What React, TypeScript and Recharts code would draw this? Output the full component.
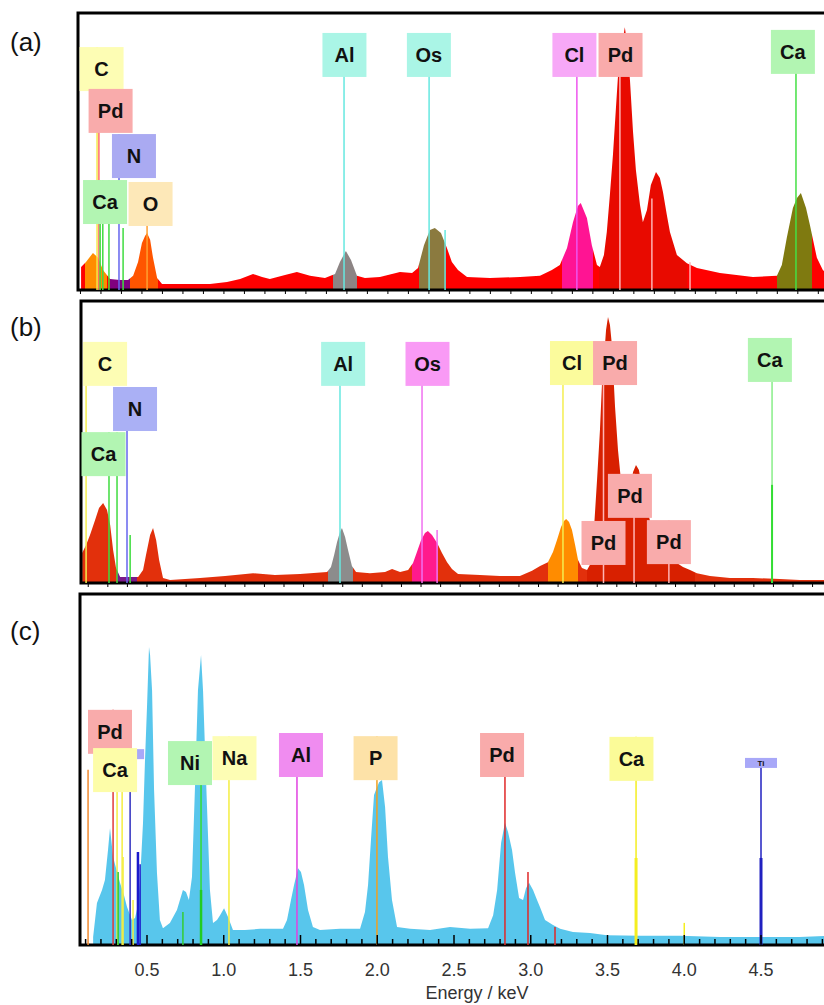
import React from 'react';
import { ComposedChart, Area, XAxis, YAxis, ReferenceLine, ReferenceDot, ReferenceArea } from 'recharts';

const SANS = "'Liberation Sans', Arial, Helvetica, sans-serif";
const NARROW = "'Liberation Sans Narrow', 'Arial Narrow', 'Liberation Sans', sans-serif";

// ---- (a) spectrum: energy (keV) / intensity (a.u., 0-100)
const energyA = [0.203, 0.227, 0.261, 0.286, 0.310, 0.344, 0.393, 0.432, 0.457, 0.481, 0.500, 0.515, 0.525, 0.540, 0.554, 0.574, 0.598, 0.686, 0.832, 0.915, 0.979, 1.042, 1.086, 1.124, 1.198, 1.256, 1.320, 1.393, 1.442, 1.466, 1.495, 1.520, 1.549, 1.588, 1.661, 1.759, 1.818, 1.847, 1.876, 1.905, 1.929, 1.959, 1.988, 2.012, 2.042, 2.086, 2.198, 2.345, 2.442, 2.500, 2.539, 2.574, 2.603, 2.627, 2.641, 2.671, 2.695, 2.720, 2.734, 2.754, 2.768, 2.783, 2.798, 2.812, 2.822, 2.837, 2.846, 2.856, 2.866, 2.881, 2.896, 2.910, 2.930, 2.944, 2.964, 2.983, 3.008, 3.027, 3.042, 3.061, 3.076, 3.110, 3.159, 3.208, 3.320, 3.481, 3.598, 3.622, 3.646, 3.676, 3.696, 3.715, 3.740, 3.759, 3.793, 3.822, 3.856];
const intensityA = [8.3, 10.1, 13.4, 11.6, 7.2, 4.0, 3.6, 3.6, 5.1, 10.1, 17.0, 19.5, 20.6, 18.1, 11.6, 4.3, 2.2, 2.2, 2.2, 2.9, 4.0, 5.8, 4.7, 4.0, 5.4, 6.5, 5.1, 4.3, 5.8, 10.1, 14.1, 10.8, 5.1, 4.3, 4.7, 6.5, 6.1, 7.9, 16.2, 21.7, 22.4, 20.6, 15.2, 10.1, 7.2, 4.7, 4.3, 4.7, 5.1, 7.2, 9.0, 15.2, 24.5, 30.3, 31.4, 26.0, 16.2, 9.0, 8.3, 12.6, 20.9, 34.3, 48.7, 65.0, 76.5, 85.9, 90.3, 94.9, 89.5, 75.8, 57.0, 43.3, 30.7, 24.5, 28.9, 37.9, 42.6, 40.4, 35.4, 27.1, 20.9, 12.6, 9.7, 7.9, 6.1, 4.7, 5.1, 9.0, 18.8, 29.6, 33.2, 35.0, 29.6, 23.5, 11.6, 7.2, 5.1];

// ---- (b) spectrum
const energyB = [0.169, 0.189, 0.209, 0.235, 0.255, 0.276, 0.296, 0.312, 0.327, 0.342, 0.363, 0.414, 0.455, 0.480, 0.495, 0.516, 0.531, 0.547, 0.562, 0.582, 0.618, 0.771, 0.899, 1.042, 1.154, 1.282, 1.420, 1.440, 1.456, 1.471, 1.486, 1.496, 1.512, 1.527, 1.547, 1.568, 1.639, 1.716, 1.752, 1.793, 1.834, 1.859, 1.879, 1.900, 1.920, 1.935, 1.956, 1.982, 2.007, 2.033, 2.058, 2.089, 2.201, 2.303, 2.405, 2.467, 2.508, 2.548, 2.574, 2.594, 2.615, 2.630, 2.641, 2.656, 2.671, 2.687, 2.702, 2.722, 2.748, 2.768, 2.783, 2.799, 2.814, 2.824, 2.835, 2.845, 2.855, 2.865, 2.875, 2.891, 2.906, 2.921, 2.937, 2.952, 2.967, 2.983, 2.998, 3.013, 3.029, 3.049, 3.075, 3.105, 3.136, 3.172, 3.207, 3.238, 3.274, 3.309, 3.376, 3.478, 3.595, 3.733, 3.835, 3.984];
const intensityB = [10.6, 13.5, 17.0, 22.3, 26.6, 28.4, 25.9, 20.6, 11.7, 5.3, 2.1, 2.1, 2.1, 4.6, 9.9, 17.0, 19.5, 15.2, 8.2, 1.8, 1.1, 1.8, 2.5, 3.5, 2.8, 3.2, 3.9, 5.7, 9.9, 14.5, 18.1, 19.5, 16.3, 11.7, 6.0, 3.9, 3.5, 3.9, 5.0, 3.9, 4.6, 7.1, 11.0, 15.2, 17.7, 18.4, 17.0, 14.2, 10.6, 7.4, 5.0, 3.2, 2.8, 2.5, 2.5, 4.3, 6.0, 7.4, 11.0, 15.2, 19.9, 22.0, 22.7, 21.6, 18.8, 13.5, 8.2, 5.3, 4.6, 7.1, 18.8, 36.5, 54.3, 70.2, 80.1, 89.7, 94.3, 91.5, 84.4, 62.4, 47.2, 36.5, 30.5, 29.4, 33.0, 39.4, 41.8, 40.1, 34.0, 27.7, 20.6, 15.2, 12.4, 9.2, 7.1, 5.7, 4.6, 3.5, 2.5, 1.8, 1.8, 1.4, 1.1, 1.1];

// ---- (c) spectrum
const energyC = [0.149, 0.174, 0.207, 0.226, 0.246, 0.259, 0.279, 0.305, 0.324, 0.350, 0.370, 0.402, 0.422, 0.441, 0.454, 0.474, 0.487, 0.500, 0.513, 0.520, 0.533, 0.546, 0.565, 0.584, 0.604, 0.649, 0.695, 0.734, 0.754, 0.773, 0.793, 0.812, 0.832, 0.852, 0.865, 0.878, 0.891, 0.910, 0.930, 0.956, 0.976, 1.002, 1.028, 1.060, 1.138, 1.236, 1.334, 1.386, 1.412, 1.438, 1.458, 1.484, 1.503, 1.523, 1.549, 1.581, 1.627, 1.757, 1.888, 1.920, 1.940, 1.959, 1.979, 1.992, 2.012, 2.031, 2.051, 2.070, 2.096, 2.129, 2.214, 2.344, 2.474, 2.605, 2.722, 2.755, 2.781, 2.807, 2.832, 2.852, 2.878, 2.898, 2.924, 2.950, 2.969, 2.989, 3.015, 3.041, 3.060, 3.093, 3.145, 3.191, 3.275, 3.386, 3.497, 3.712, 3.973, 4.233, 4.490, 4.750, 4.939];
const intensityC = [2.3, 12.0, 15.7, 18.5, 27.1, 33.3, 25.1, 20.8, 17.7, 14.2, 10.8, 7.1, 7.7, 11.4, 17.7, 34.8, 52.7, 67.8, 84.9, 82.6, 72.6, 44.2, 20.5, 7.1, 4.8, 6.3, 10.0, 15.7, 15.1, 12.8, 19.4, 44.2, 72.6, 82.6, 72.6, 55.6, 39.3, 15.7, 6.3, 7.1, 8.5, 10.5, 8.0, 4.3, 4.3, 4.6, 4.6, 4.6, 7.1, 12.8, 17.1, 21.9, 20.8, 17.1, 10.0, 5.1, 4.3, 4.6, 4.6, 9.4, 17.1, 29.9, 42.7, 44.2, 46.4, 47.0, 39.3, 25.1, 12.8, 5.1, 4.6, 4.3, 5.1, 4.6, 4.8, 8.5, 15.7, 29.1, 34.8, 32.2, 27.1, 20.5, 13.4, 12.8, 16.2, 17.7, 15.7, 12.8, 10.8, 7.1, 5.7, 4.6, 3.7, 3.4, 2.8, 2.6, 2.6, 2.3, 2.3, 2.3, 2.6];

// axis ticks (keV)
const majorTicks = [0.5, 1.0, 1.5, 2.0, 2.5, 3.0, 3.5, 4.0, 4.5];
const minorTicks = [0.1, 0.2, 0.3, 0.4, 0.5, 0.6, 0.7, 0.8, 0.9, 1.0, 1.1, 1.2, 1.3, 1.4, 1.5, 1.6, 1.7, 1.8, 1.9, 2.0, 2.1, 2.2, 2.3, 2.4, 2.5, 2.6, 2.7, 2.8, 2.9, 3.0, 3.1, 3.2, 3.3, 3.4, 3.5, 3.6, 3.7, 3.8, 3.9, 4.0, 4.1, 4.2, 4.3, 4.4, 4.5, 4.6, 4.7, 4.8, 4.9];

// element labels: energy of box centre, top of box (same units as intensity)
const tagsA = [
  { text: 'C', e: 0.303, top: 87.7, bg: '#fdfdb4' },
  { text: 'Pd', e: 0.347, top: 72.6, bg: '#f9abab' },
  { text: 'N', e: 0.461, top: 56.3, bg: '#aaaaf2' },
  { text: 'Ca', e: 0.320, top: 39.7, bg: '#b2f5b2' },
  { text: 'O', e: 0.542, top: 39.0, bg: '#fde8b8' },
  { text: 'Al', e: 1.488, top: 92.8, bg: '#aaf5e6' },
  { text: 'Os', e: 1.900, top: 92.8, bg: '#aaf5e6' },
  { text: 'Cl', e: 2.610, top: 92.8, bg: '#f7a8f7' },
  { text: 'Pd', e: 2.835, top: 92.8, bg: '#f9abab' },
  { text: 'Ca', e: 3.676, top: 93.9, bg: '#b2f5b2' },
];
const tagsB = [
  { text: 'C', e: 0.286, top: 85.5, bg: '#fdfdb4' },
  { text: 'N', e: 0.439, top: 69.5, bg: '#aab0f5' },
  { text: 'Ca', e: 0.278, top: 53.5, bg: '#b2f5b2' },
  { text: 'Al', e: 1.502, top: 85.5, bg: '#aaf5e6' },
  { text: 'Os', e: 1.933, top: 85.5, bg: '#f99af5' },
  { text: 'Cl', e: 2.671, top: 85.8, bg: '#fbfb9c' },
  { text: 'Pd', e: 2.891, top: 85.8, bg: '#f9abab' },
  { text: 'Pd', e: 2.967, top: 38.7, bg: '#f9abab' },
  { text: 'Pd', e: 2.832, top: 22.0, bg: '#f9abab' },
  { text: 'Pd', e: 3.166, top: 22.3, bg: '#f9abab' },
  { text: 'Ca', e: 3.682, top: 86.9, bg: '#b2f5b2' },
];
const tagsC = [
  { text: 'Pd', e: 0.259, top: 67.0, bg: '#f9abab' },
  { text: '', e: 0.377, top: 55.8, bg: '#a8a8f8', small: true },
  { text: 'Ca', e: 0.292, top: 56.1, bg: '#fdfda8' },
  { text: 'Ni', e: 0.780, top: 58.1, bg: '#b2f5b2' },
  { text: 'Na', e: 1.070, top: 59.5, bg: '#fdfdb4' },
  { text: 'Al', e: 1.503, top: 60.4, bg: '#f08cf0' },
  { text: 'P', e: 1.989, top: 59.5, bg: '#fde2a8' },
  { text: 'Pd', e: 2.813, top: 60.4, bg: '#f9abab' },
  { text: 'Ca', e: 3.656, top: 59.3, bg: '#fbfb98' },
  { text: 'Ti', e: 4.500, top: 53.3, bg: '#a8a8f8', small: true },
];

// element marker lines: energy, height
const linesA = [
  { e: 0.281, top: 87.7, color: '#f4e84a' },
  { e: 0.290, top: 72.6, color: '#ff6b6b' },
  { e: 0.296, top: 39.7, color: '#3fdc3f' },
  { e: 0.309, top: 39.7, color: '#3fdc3f' },
  { e: 0.339, top: 39.7, color: '#3fdc3f' },
  { e: 0.408, top: 22.4, color: '#3fdc3f' },
  { e: 0.388, top: 56.3, color: '#6565ee' },
  { e: 0.525, top: 39.0, color: '#ffa030' },
  { e: 1.486, top: 92.8, color: '#66e8e0' },
  { e: 1.901, top: 92.8, color: '#66e8e0' },
  { e: 1.979, top: 21.7, color: '#66e8e0' },
  { e: 2.622, top: 92.8, color: '#ee55ee' },
  { e: 2.832, top: 92.8, color: '#ffb4b4' },
  { e: 2.988, top: 33.0, color: '#ffb4b4' },
  { e: 3.174, top: 10.0, color: '#ffb4b4' },
  { e: 3.691, top: 93.9, color: '#44e044' },
];
const linesB = [
  { e: 0.189, top: 85.5, color: '#f4ee50' },
  { e: 0.306, top: 53.5, color: '#3fdc3f' },
  { e: 0.347, top: 53.5, color: '#3fdc3f' },
  { e: 0.414, top: 17.0, color: '#3fdc3f' },
  { e: 0.398, top: 69.5, color: '#6565ee' },
  { e: 1.486, top: 85.5, color: '#66e8e0' },
  { e: 1.905, top: 85.5, color: '#f070f0' },
  { e: 1.982, top: 18.8, color: '#f070f0' },
  { e: 2.625, top: 85.8, color: '#f4ee50' },
  { e: 2.832, top: 85.8, color: '#ffb4b4' },
  { e: 2.988, top: 38.7, color: '#ffb4b4' },
  { e: 3.166, top: 22.3, color: '#ffb4b4' },
  { e: 3.693, top: 86.9, color: '#88ee88' },
  { e: 3.693, top: 34.8, color: '#33dd33', w: 2 },
];
const linesC = [
  { e: 0.116, top: 49.9, color: '#f08a30' },
  { e: 0.279, top: 67.0, color: '#e03a3a' },
  { e: 0.305, top: 56.1, color: '#f4ee40' },
  { e: 0.338, top: 56.1, color: '#f4ee40' },
  { e: 0.312, top: 20.8, color: '#33cc33' },
  { e: 0.344, top: 25.1, color: '#f4ee40' },
  { e: 0.390, top: 56.1, color: '#3030c0' },
  { e: 0.409, top: 12.8, color: '#f4ee40' },
  { e: 0.441, top: 26.5, color: '#1a1acc', w: 2.5 },
  { e: 0.455, top: 23.0, color: '#1a1acc' },
  { e: 0.734, top: 9.4, color: '#33cc33' },
  { e: 0.852, top: 58.1, color: '#33dd33' },
  { e: 0.852, top: 15.7, color: '#22cc22', w: 2.5 },
  { e: 1.034, top: 59.5, color: '#f4ee40' },
  { e: 1.477, top: 60.4, color: '#e040e0' },
  { e: 1.998, top: 59.5, color: '#f0a020' },
  { e: 2.832, top: 60.4, color: '#e02828' },
  { e: 2.982, top: 20.8, color: '#e02828' },
  { e: 3.158, top: 5.1, color: '#e02828' },
  { e: 3.686, top: 59.3, color: '#f4ee20' },
  { e: 3.686, top: 24.8, color: '#f4ee20', w: 3 },
  { e: 4.000, top: 6.3, color: '#f4ee20' },
  { e: 4.500, top: 53.3, color: '#2020c0' },
  { e: 4.500, top: 24.8, color: '#2020c0', w: 3 },
];

// coloured peak regions of the fill
const bandsA = [
  { from: 0.223, to: 0.330, color: '#ff8c00' },
  { from: 0.344, to: 0.442, color: '#800080' },
  { from: 0.442, to: 0.579, color: '#ff5500' },
  { from: 1.430, to: 1.550, color: '#8c8484' },
  { from: 1.850, to: 1.980, color: '#8b7a3f' },
  { from: 2.550, to: 2.700, color: '#ff1493' },
  { from: 2.730, to: 3.160, color: '#e80a00' },
  { from: 3.600, to: 3.770, color: '#7f7a10' },
];
const bandsB = [
  { from: 0.347, to: 0.450, color: '#7a1a8a' },
  { from: 1.425, to: 1.553, color: '#8c8c8c' },
  { from: 1.854, to: 1.987, color: '#ff1a8c' },
  { from: 2.548, to: 2.702, color: '#ff8c00' },
  { from: 2.750, to: 3.300, color: '#d82000' },
];

type Tag = { text: string; e: number; top: number; bg: string; small?: boolean };
type Mark = { e: number; top: number; color: string; w?: number };
type Band = { from: number; to: number; color: string };

const TagBox = (p: any) => {
  const t: Tag = p.tag;
  const w = t.small ? 32 : 44;
  const h = t.small ? 10 : 44;
  return (
    <g>
      <rect x={p.cx - w / 2} y={p.cy} width={w} height={h} fill={t.bg} />
      {t.text && (
        <text x={p.cx} y={p.cy + (t.small ? 8.5 : 29)} textAnchor="middle" fontFamily={SANS}
          fontWeight="bold" fontSize={t.small ? 8 : 20} fill="#111">
          {t.text}
        </text>
      )}
    </g>
  );
};

const OuterTick = (p: any) => (
  <line x1={p.x} x2={p.x} y1={p.y} y2={p.y + 4} stroke="#000" strokeWidth={1} />
);

const EnergyTick = (p: any) => {
  const major = majorTicks.includes(p.payload.value);
  return (
    <g>
      <line x1={p.x} x2={p.x} y1={p.y} y2={p.y - (major ? 10 : 6)} stroke="#000" strokeWidth={1.5} />
      {major && (
        <text x={p.x} y={p.y + 31} textAnchor="middle" fontFamily={NARROW} fontSize={18} fill="#333">
          {p.payload.value.toFixed(1)}
        </text>
      )}
    </g>
  );
};

interface SpectrumProps {
  id: string;
  energy: number[];
  intensity: number[];
  domain: [number, number];
  fill: string;
  bands: Band[];
  lines: Mark[];
  tags: Tag[];
  height: number;
  margin: { top: number; right: number; bottom: number; left: number };
  bottomAxis?: boolean;
}

const Spectrum = ({ id, energy, intensity, domain, fill, bands, lines, tags, height, margin, bottomAxis }: SpectrumProps) => {
  const data = energy.map((e, i) => ({ e, v: intensity[i] }));
  const e0 = energy[0];
  const e1 = energy[energy.length - 1];
  const pct = (e: number) => `${Math.max(0, Math.min(100, ((e - e0) / (e1 - e0)) * 100)).toFixed(3)}%`;
  const stops: React.ReactNode[] = [<stop key="s0" offset="0%" stopColor={fill} />];
  bands.forEach((b, i) => {
    stops.push(
      <stop key={`a${i}`} offset={pct(b.from)} stopColor={fill} />,
      <stop key={`b${i}`} offset={pct(b.from)} stopColor={b.color} />,
      <stop key={`c${i}`} offset={pct(b.to)} stopColor={b.color} />,
      <stop key={`d${i}`} offset={pct(b.to)} stopColor={fill} />
    );
  });
  stops.push(<stop key="s1" offset="100%" stopColor={fill} />);
  const ticks = minorTicks.filter((t) => t > domain[0] && t < domain[1]);

  return (
    <ComposedChart width={840} height={height} data={data} margin={margin}>
      <defs>
        <linearGradient id={id} x1="0" y1="0" x2="1" y2="0">{stops}</linearGradient>
      </defs>
      <XAxis
        type="number"
        dataKey="e"
        domain={domain}
        allowDataOverflow
        ticks={ticks}
        interval={0}
        axisLine={false}
        tickLine={false}
        tickSize={0}
        tickMargin={0}
        height={bottomAxis ? 60 : 6}
        tick={bottomAxis ? (p: any) => <EnergyTick {...p} /> : (p: any) => <OuterTick {...p} />}
        label={bottomAxis ? { value: 'Energy / keV', position: 'insideBottom', offset: 6, dx: 22, fontFamily: NARROW, fontSize: 18, fill: '#333' } : undefined}
      />
      <YAxis hide domain={[0, 100]} allowDataOverflow />
      <Area
        type="linear"
        dataKey="v"
        stroke="none"
        fill={`url(#${id})`}
        fillOpacity={1}
        isAnimationActive={false}
        dot={false}
        activeDot={false}
      />
      {lines.map((l, i) => (
        <ReferenceLine key={`l${i}`} segment={[{ x: l.e, y: 0 }, { x: l.e, y: l.top }]} stroke={l.color} strokeWidth={l.w ?? 1.5} />
      ))}
      {tags.map((t, i) => (
        <ReferenceDot key={`t${i}`} x={t.e} y={t.top} r={0} isFront shape={(p: any) => <TagBox {...p} tag={t} />} />
      ))}
      <ReferenceArea x1={domain[0]} x2={domain[1]} y1={0} y2={100} fill="none" fillOpacity={0} stroke="#000" strokeWidth={3} isFront />
    </ComposedChart>
  );
};

const panelLabel = { position: 'absolute' as const, left: 10, fontSize: 26, fontFamily: SANS, color: '#111' };

export default function App() {
  return (
    <div style={{ position: 'absolute', left: 0, top: 0, width: 824, height: 1005, overflow: 'hidden', background: '#fff' }}>
      <div style={{ position: 'absolute', left: 0, top: 0 }}>
        <Spectrum id="gradA" energy={energyA} intensity={intensityA} domain={[0.188, 3.857]} fill="#ff0000"
          bands={bandsA} lines={linesA} tags={tagsA} height={300} margin={{ top: 13, right: 10, bottom: 4, left: 78 }} />
      </div>
      <div style={{ position: 'absolute', left: 0, top: 295 }}>
        <Spectrum id="gradB" energy={energyB} intensity={intensityB} domain={[0.163, 3.989]} fill="#e2300c"
          bands={bandsB} lines={linesB} tags={tagsB} height={296} margin={{ top: 6, right: 10, bottom: 2, left: 81 }} />
      </div>
      <div style={{ position: 'absolute', left: 0, top: 585 }}>
        <Spectrum id="gradC" energy={energyC} intensity={intensityC} domain={[0.0635, 4.9495]} fill="#58c6ec"
          bands={[]} lines={linesC} tags={tagsC} height={420} margin={{ top: 9, right: 10, bottom: 0, left: 80 }} bottomAxis />
      </div>
      <div style={{ ...panelLabel, top: 27 }}>(a)</div>
      <div style={{ ...panelLabel, top: 312 }}>(b)</div>
      <div style={{ ...panelLabel, top: 616 }}>(c)</div>
    </div>
  );
}
